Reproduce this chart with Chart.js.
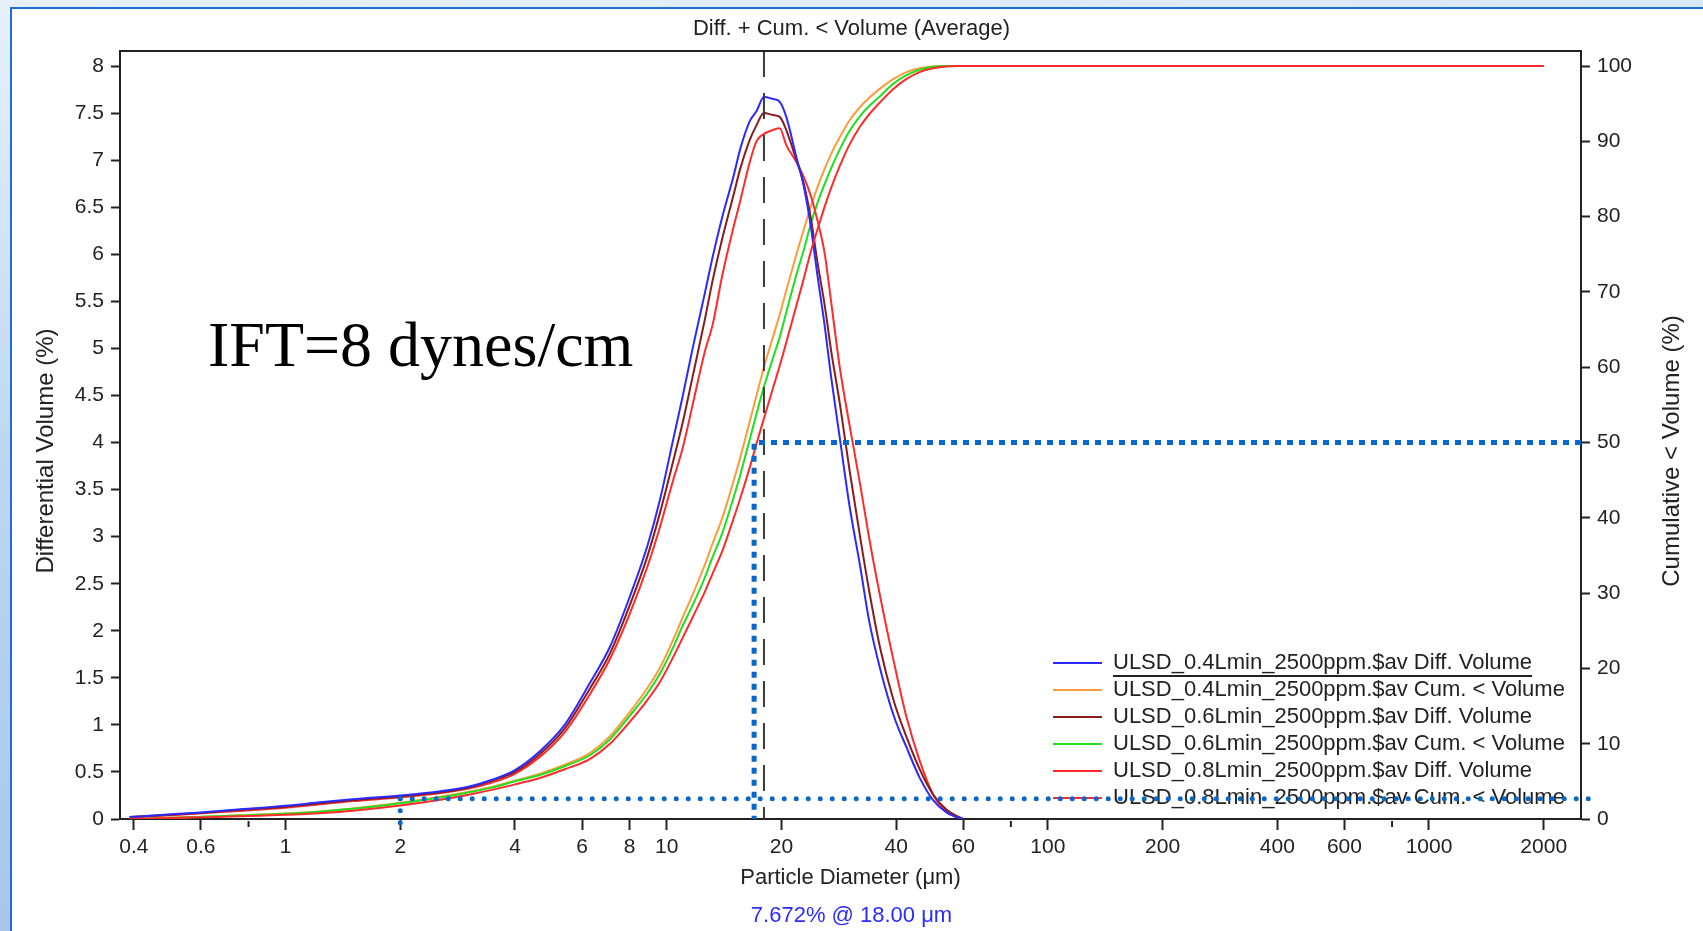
<!DOCTYPE html>
<html>
<head>
<meta charset="utf-8">
<title>Diff. + Cum. &lt; Volume (Average)</title>
<script src="https://cdn.jsdelivr.net/npm/chart.js@4.4.1/dist/chart.umd.min.js"></script>
<style>
  html, body { margin: 0; padding: 0; background: #fff; }
  #wrap { position: relative; width: 1703px; height: 931px; }
</style>
</head>
<body>
<div id="wrap"><canvas id="psd"></canvas></div>
<script>
// particle diameter channels (um)
const diameters = [0.39, 0.5, 0.6, 0.75, 1.0, 1.25, 1.5, 2.0, 2.5, 3.0, 3.5, 4.0, 4.65, 5.4, 6.3, 7.1, 8.0, 8.9, 9.6, 10.4,
  11.0, 11.7, 12.6, 13.2, 14.0, 15.0, 15.6, 16.5, 17.2, 18.0, 19.0, 19.8, 20.6, 21.9, 22.9, 23.9, 24.9, 26.0, 27.0, 28.5,
  30.2, 32.2, 34.0, 36.3, 39.4, 42.6, 46.1, 50.0, 54.2, 58.5, 60.0, 2000];

// differential volume (%)
const diff04 = [0.02, 0.05, 0.07, 0.10, 0.14, 0.18, 0.21, 0.25, 0.29, 0.34, 0.42, 0.52, 0.72, 1.00, 1.45, 1.83, 2.36, 2.90, 3.39, 4.03,
  4.48, 5.00, 5.59, 5.97, 6.40, 6.84, 7.12, 7.41, 7.52, 7.672, 7.65, 7.62, 7.46, 7.03, 6.72, 6.29, 5.76, 5.23, 4.70, 4.03,
  3.32, 2.68, 2.10, 1.60, 1.10, 0.76, 0.44, 0.20, 0.07, 0.01, 0, null];
const diff06 = [0.02, 0.045, 0.065, 0.095, 0.13, 0.17, 0.20, 0.24, 0.28, 0.33, 0.41, 0.50, 0.69, 0.96, 1.39, 1.76, 2.27, 2.79, 3.25, 3.80,
  4.20, 4.70, 5.31, 5.72, 6.17, 6.64, 6.91, 7.21, 7.37, 7.50, 7.48, 7.46, 7.32, 7.00, 6.75, 6.38, 5.90, 5.45, 4.98, 4.40,
  3.70, 2.99, 2.42, 1.82, 1.26, 0.87, 0.53, 0.26, 0.10, 0.02, 0, null];
const diff08 = [0.015, 0.04, 0.06, 0.085, 0.12, 0.16, 0.19, 0.23, 0.27, 0.32, 0.39, 0.48, 0.66, 0.92, 1.33, 1.70, 2.18, 2.68, 3.10, 3.60,
  3.93, 4.40, 4.97, 5.25, 5.78, 6.30, 6.57, 6.97, 7.20, 7.28, 7.32, 7.34, 7.16, 6.98, 6.82, 6.62, 6.35, 6.00, 5.50, 4.78,
  4.18, 3.55, 2.98, 2.37, 1.68, 1.08, 0.62, 0.26, 0.08, 0.02, 0, null];

// cumulative < volume (%)
const cum04 = [0, 0.18, 0.3, 0.47, 0.72, 1.03, 1.4, 2.15, 2.9, 3.6, 4.3, 5.1, 6.0, 7.2, 8.8, 11.0, 14.2, 17.4, 20.1, 23.8,
  26.7, 29.8, 33.8, 36.6, 40.0, 45.0, 48.0, 52.7, 56.2, 60.0, 64.0, 67.0, 70.2, 75.0, 78.3, 81.4, 84.0, 86.4, 88.3, 90.6,
  92.8, 94.6, 95.8, 97.0, 98.3, 99.2, 99.7, 99.95, 100, 100, 100, 100];
const cum06 = [0, 0.15, 0.28, 0.45, 0.7, 1.0, 1.35, 2.1, 2.8, 3.5, 4.2, 5.0, 5.85, 7.0, 8.5, 10.6, 13.7, 16.7, 19.3, 22.8,
  25.6, 28.4, 32.1, 34.8, 38.0, 42.8, 45.7, 50.3, 53.8, 57.4, 61.2, 64.0, 67.3, 72.3, 75.6, 79.1, 81.9, 84.4, 86.4, 89.0,
  91.4, 93.4, 94.7, 96.0, 97.7, 98.8, 99.5, 99.9, 100, 100, 100, 100];
const cum08 = [0, 0.12, 0.22, 0.35, 0.55, 0.8, 1.1, 1.8, 2.5, 3.2, 3.9, 4.6, 5.45, 6.6, 8.0, 10.0, 12.9, 15.8, 18.2, 21.5,
  24.0, 26.8, 30.2, 32.6, 35.6, 40.0, 42.6, 46.6, 49.8, 53.2, 57.2, 60.2, 63.3, 68.2, 71.8, 75.4, 78.4, 81.4, 83.8, 86.8,
  89.6, 92.0, 93.6, 95.2, 97.0, 98.3, 99.2, 99.7, 99.95, 100, 100, 100];

const seriesLabels = [
  'ULSD_0.4Lmin_2500ppm.$av Diff. Volume',
  'ULSD_0.4Lmin_2500ppm.$av Cum. < Volume',
  'ULSD_0.6Lmin_2500ppm.$av Diff. Volume',
  'ULSD_0.6Lmin_2500ppm.$av Cum. < Volume',
  'ULSD_0.8Lmin_2500ppm.$av Diff. Volume',
  'ULSD_0.8Lmin_2500ppm.$av Cum. < Volume'
];

// axis ticks
const xTickValues = [0.4, 0.6, 1, 2, 4, 6, 8, 10, 20, 40, 60, 100, 200, 400, 600, 1000, 2000];
const xMinorTicks = [0.8, 80, 800];

// cursor and guide lines
const cursorSize = 18.0;
const cursorValue = 7.672;
const medianSize = 16.96;
const medianLevel = 50;
const lowGuideSize = 2.0;
const lowGuideLevel = 2.7;

const FONT = "'Liberation Sans', Arial, sans-serif";
const INK = '#222';

function points(values) {
  return diameters.map((d, i) => ({ x: d, y: values[i] }));
}

const datasets = [
  { label: seriesLabels[0], data: points(diff04), borderColor: '#2a2aff', yAxisID: 'y', order: 1 },
  { label: seriesLabels[1], data: points(cum04), borderColor: '#ff9a3c', yAxisID: 'y1', order: 5 },
  { label: seriesLabels[2], data: points(diff06), borderColor: '#8a1c1c', yAxisID: 'y', order: 2 },
  { label: seriesLabels[3], data: points(cum06), borderColor: '#1ee01e', yAxisID: 'y1', order: 4 },
  { label: seriesLabels[4], data: points(diff08), borderColor: '#ff2a2a', yAxisID: 'y', order: 3 },
  { label: seriesLabels[5], data: points(cum08), borderColor: '#ff2a2a', yAxisID: 'y1', order: 0 }
];

function rotatedText(ctx, text, x, y, size) {
  ctx.save();
  ctx.translate(x, y);
  ctx.rotate(-Math.PI / 2);
  ctx.font = size + 'px ' + FONT;
  ctx.fillStyle = INK;
  ctx.textAlign = 'center';
  ctx.textBaseline = 'middle';
  ctx.fillText(text, 0, 0);
  ctx.restore();
}

const decorations = {
  id: 'decorations',
  beforeDraw(chart) {
    const { ctx, width: w, height: h } = chart;
    ctx.save();
    const g = ctx.createLinearGradient(0, 0, 80, h);
    g.addColorStop(0, '#e6f0fb');
    g.addColorStop(0.5, '#bcd6f1');
    g.addColorStop(1, '#a6c6ea');
    ctx.fillStyle = g;
    ctx.fillRect(0, 0, w, h);
    ctx.fillStyle = '#fff';
    ctx.fillRect(11, 8, w - 11, h - 8);
    ctx.strokeStyle = '#1b6fd6';
    ctx.lineWidth = 2;
    ctx.beginPath();
    ctx.moveTo(11, h);
    ctx.lineTo(11, 8);
    ctx.lineTo(w, 8);
    ctx.stroke();
    ctx.restore();
  },
  afterDatasetsDraw(chart) {
    const { ctx, chartArea: a, scales: { x } } = chart;
    ctx.save();
    // cursor at the peak
    const cx = x.getPixelForValue(cursorSize);
    ctx.strokeStyle = '#3a3a3a';
    ctx.lineWidth = 2;
    ctx.setLineDash([26, 16]);
    ctx.beginPath();
    ctx.moveTo(cx, a.top);
    ctx.lineTo(cx, a.bottom);
    ctx.stroke();
    // top edge of the plot frame
    ctx.setLineDash([]);
    ctx.strokeStyle = INK;
    ctx.beginPath();
    ctx.moveTo(a.left, a.top);
    ctx.lineTo(a.right, a.top);
    ctx.stroke();
    ctx.restore();
  },
  afterDraw(chart) {
    const { ctx, chartArea: a, scales: { x, y1 } } = chart;
    ctx.save();

    // short unlabelled ticks
    ctx.strokeStyle = INK;
    ctx.lineWidth = 2;
    xMinorTicks.forEach(v => {
      const px = x.getPixelForValue(v);
      ctx.beginPath();
      ctx.moveTo(px, a.bottom + 2);
      ctx.lineTo(px, a.bottom + 8);
      ctx.stroke();
    });

    // axis titles
    rotatedText(ctx, 'Differential Volume (%)', 46.5, 451, 24);
    rotatedText(ctx, 'Cumulative < Volume (%)', 1672.5, 451, 24);

    // note
    ctx.font = "64px 'Liberation Serif', 'Times New Roman', serif";
    ctx.fillStyle = '#000';
    ctx.textAlign = 'left';
    ctx.textBaseline = 'alphabetic';
    ctx.fillText('IFT=8 dynes/cm', 208, 366);

    // legend
    ctx.font = '22px ' + FONT;
    ctx.textBaseline = 'middle';
    chart.data.datasets.forEach((ds, i) => {
      const ry = 663 + i * 27;
      ctx.strokeStyle = ds.borderColor;
      ctx.lineWidth = 2;
      ctx.beginPath();
      ctx.moveTo(1053, ry);
      ctx.lineTo(1102, ry);
      ctx.stroke();
      ctx.fillStyle = INK;
      ctx.fillText(ds.label, 1113, ry);
      if (i === 0) {
        const tw = ctx.measureText(ds.label).width;
        ctx.strokeStyle = INK;
        ctx.beginPath();
        ctx.moveTo(1113, ry + 13);
        ctx.lineTo(1113 + tw, ry + 13);
        ctx.stroke();
      }
    });

    // d50 guide (square dots)
    ctx.strokeStyle = '#0a66cc';
    ctx.lineWidth = 5;
    ctx.lineCap = 'butt';
    ctx.setLineDash([6, 6]);
    const mx = x.getPixelForValue(medianSize);
    const my = y1.getPixelForValue(medianLevel);
    ctx.beginPath();
    ctx.moveTo(a.right, my);
    ctx.lineTo(mx, my);
    ctx.lineTo(mx, a.bottom);
    ctx.stroke();

    // low guide (round dots)
    ctx.lineCap = 'round';
    ctx.setLineDash([0, 12]);
    const lx = x.getPixelForValue(lowGuideSize);
    const ly = y1.getPixelForValue(lowGuideLevel);
    ctx.beginPath();
    ctx.moveTo(lx, ly);
    ctx.lineTo(a.right + 8, ly);
    ctx.stroke();
    ctx.beginPath();
    ctx.moveTo(lx, ly);
    ctx.lineTo(lx, a.bottom + 8);
    ctx.stroke();

    ctx.restore();
  }
};

const tickFont = { family: FONT, size: 21 };

new Chart(document.getElementById('psd'), {
  type: 'line',
  data: { datasets },
  options: {
    responsive: true,
    maintainAspectRatio: false,
    animation: false,
    layout: { padding: 0 },
    elements: {
      point: { radius: 0 },
      line: { borderWidth: 2, cubicInterpolationMode: 'monotone' }
    },
    plugins: {
      legend: { display: false },
      tooltip: { enabled: false },
      title: {
        display: true,
        text: 'Diff. + Cum. < Volume (Average)',
        color: INK,
        font: { family: FONT, size: 22, weight: 'normal', lineHeight: 1.2 },
        padding: { top: 16, bottom: 8.6 }
      },
      subtitle: {
        display: true,
        position: 'bottom',
        text: cursorValue.toFixed(3) + '% @ ' + cursorSize.toFixed(2) + ' μm',
        color: '#2b2bff',
        font: { family: FONT, size: 22, weight: 'normal', lineHeight: 1.2 },
        padding: { top: 0, bottom: 2 }
      }
    },
    scales: {
      x: {
        type: 'logarithmic',
        min: 0.368,
        max: 2505,
        afterBuildTicks: s => { s.ticks = xTickValues.map(v => ({ value: v })); },
        afterFit: s => { s.height = 83.6; },
        ticks: { callback: v => String(v), autoSkip: false, maxRotation: 0, color: INK, font: tickFont, padding: 5 },
        grid: { drawOnChartArea: false, tickLength: 11, tickWidth: 2, tickColor: INK },
        border: { color: INK, width: 2 },
        title: {
          display: true,
          text: 'Particle Diameter (μm)',
          color: INK,
          font: { family: FONT, size: 22, lineHeight: 1.2 },
          padding: { top: 0, bottom: 11.8 }
        }
      },
      y: {
        position: 'left',
        min: 0,
        max: 8.16,
        afterFit: s => { s.width = 120; },
        ticks: { stepSize: 0.5, includeBounds: false, callback: v => String(v), color: INK, font: tickFont, padding: 7 },
        grid: { drawOnChartArea: false, tickLength: 9, tickWidth: 2, tickColor: INK },
        border: { color: INK, width: 2 }
      },
      y1: {
        position: 'right',
        min: 0,
        max: 102,
        afterFit: s => { s.width = 122; },
        ticks: { stepSize: 10, includeBounds: false, callback: v => String(v), color: INK, font: tickFont, padding: 7 },
        grid: { drawOnChartArea: false, tickLength: 9, tickWidth: 2, tickColor: INK },
        border: { color: INK, width: 2 }
      }
    }
  },
  plugins: [decorations]
});
</script>
</body>
</html>
